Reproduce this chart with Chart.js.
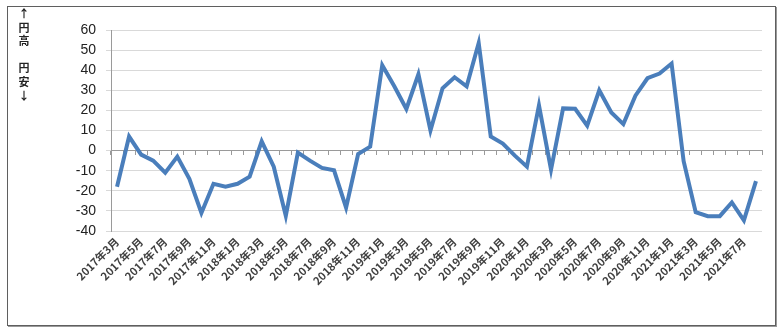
<!DOCTYPE html>
<html>
<head>
<meta charset="utf-8">
<script src="https://cdn.jsdelivr.net/npm/chart.js@4.4.1/dist/chart.umd.min.js"></script>
<style>
  html, body { margin: 0; padding: 0; background: #fff; }
  #wrap { position: relative; width: 784px; height: 334px; }
  #frame { position: absolute; left: 7px; top: 6px; width: 769px; height: 320px;
           border: 1px solid #5f5f5f; box-shadow: 1px 1px 0 #9a9a9a; box-sizing: border-box; pointer-events: none; }
  #note { position: absolute; left: 17px; top: 7px; width: 14px; text-align: center;
          font-family: "Noto Sans CJK JP", sans-serif; font-weight: bold; font-size: 11px; line-height: 13.6px; color: #222; }
  canvas { position: absolute; left: 0; top: 0; }
</style>
</head>
<body>
<div id="wrap">
  <canvas id="c" width="784" height="334"></canvas>
  <div id="frame"></div>
  <div id="note">↑<br>円<br>高<br>&nbsp;<br>円<br>安<br>↓</div>
</div>
<script>
const months = [
  "2017年3月","2017年4月","2017年5月","2017年6月","2017年7月","2017年8月","2017年9月","2017年10月","2017年11月","2017年12月",
  "2018年1月","2018年2月","2018年3月","2018年4月","2018年5月","2018年6月","2018年7月","2018年8月","2018年9月","2018年10月","2018年11月","2018年12月",
  "2019年1月","2019年2月","2019年3月","2019年4月","2019年5月","2019年6月","2019年7月","2019年8月","2019年9月","2019年10月","2019年11月","2019年12月",
  "2020年1月","2020年2月","2020年3月","2020年4月","2020年5月","2020年6月","2020年7月","2020年8月","2020年9月","2020年10月","2020年11月","2020年12月",
  "2021年1月","2021年2月","2021年3月","2021年4月","2021年5月","2021年6月","2021年7月","2021年8月"
];
const values = [
  -18, 7, -2, -5, -11, -3, -14, -31, -16.5, -18,
  -16.5, -13, 4.6, -8, -32.5, -1, -5, -8.6, -9.8, -28.4, -1.7, 2,
  42.5, 32, 20.7, 38, 10, 31, 36.5, 32, 53.5, 7, 3.5, -2.5,
  -8, 22.5, -9.5, 21, 20.8, 12.4, 30, 19, 13.2, 27.3, 36, 38.3,
  43.3, -5.3, -30.6, -32.6, -32.6, -25.8, -34.7, -15.2
];
const yTicks = { min: -40, max: 60, step: 10 };

new Chart(document.getElementById('c'), {
  type: 'line',
  data: {
    labels: months,
    datasets: [{
      data: values,
      borderColor: '#4a7ebb',
      borderWidth: 4,
      pointRadius: 0,
      tension: 0,
      fill: false,
      xAxisID: 'x',
      yAxisID: 'y'
    }]
  },
  options: {
    responsive: false,
    animation: false,
    layout: { padding: { top: 30, right: 22, left: 0, bottom: 0 } },
    plugins: { legend: { display: false }, tooltip: { enabled: false } },
    scales: {
      x: {
        type: 'category',
        position: 'bottom',
        offset: true,
        grid: { display: false, drawTicks: false },
        border: { display: false },
        ticks: {
          autoSkip: false,
          minRotation: 45,
          maxRotation: 45,
          padding: 4,
          color: '#404040',
          font: { family: '"Noto Sans CJK JP", sans-serif', size: 11, weight: 'bold' },
          callback: function(v, i) { return i % 2 === 0 ? this.getLabelForValue(v) : ''; }
        },
        afterFit: function(s) { s.height = 103; }
      },
      x2: {
        type: 'category',
        position: { y: 0 },
        offset: true,
        grid: { offset: true, drawOnChartArea: false, drawTicks: true, tickLength: 4, color: '#9a9a9a' },
        border: { display: true, color: '#9a9a9a', width: 1 },
        ticks: { display: false }
      },
      y: {
        min: yTicks.min,
        max: yTicks.max,
        grid: { color: '#d9d9d9', tickLength: 5, lineWidth: 1 },
        border: { display: true, color: '#9a9a9a' },
        ticks: {
          stepSize: yTicks.step,
          padding: 10,
          color: '#222',
          font: { family: '"Liberation Sans", sans-serif', size: 14 }
        },
        afterFit: function(s) { s.width = 111; }
      }
    }
  }
});
</script>
</body>
</html>
